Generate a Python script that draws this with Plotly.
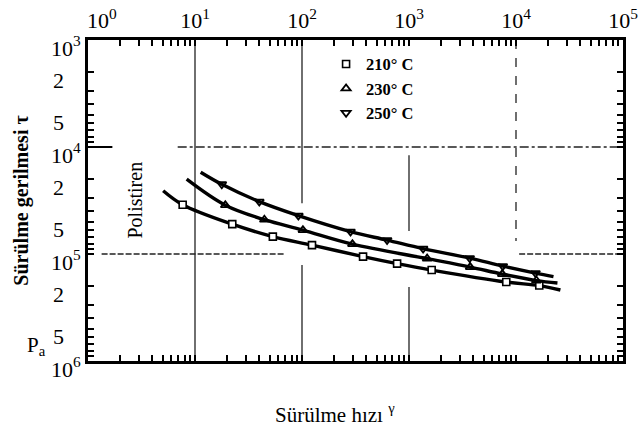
import plotly.graph_objects as go

# ---------------- data ----------------
temps = ["210° C", "230° C", "250° C"]

# marker points (shear rate 1/s, shear stress Pa)
rate_210 = [7.67, 22.3, 53.4, 124, 372, 774, 1629, 8110, 16500]
stress_210 = [34600, 52600, 68800, 82600, 105700, 123000, 141300, 182900, 197200]

rate_230 = [19.2, 44.5, 102, 296, 1477, 3730, 7450, 15500]
stress_230 = [35000, 47800, 59800, 80900, 110400, 132500, 154100, 177100]

rate_250 = [17.8, 39.9, 92.5, 284, 624, 1355, 3690, 7520, 15200]
stress_250 = [22300, 32400, 43800, 61800, 74100, 89100, 109200, 129700, 150700]

# where the drawn curves start and end beyond the markers
curve_start_210 = (5.04, 25600)
curve_end_210 = (26000, 217000)
curve_start_230 = (8.36, 20000)
curve_end_230 = (24400, 186700)
curve_start_250 = (11.3, 17200)
curve_end_250 = (22400, 162500)

# axis ticks
x_decades = [0, 1, 2, 3, 4, 5]
y_decades = [3, 4, 5, 6]
mantissas = [1, 2, 3, 4, 5, 6, 7, 8, 9]
x_decade_labels = ["\u00a0\u00a0\u00a0\u00a0\u00a010<sup>0</sup>", "10<sup>1</sup>", "10<sup>2</sup>",
                   "10<sup>3</sup>", "10<sup>4</sup>", "10<sup>5</sup>"]
y_decade_labels = ["10<sup>3</sup>", "10<sup>4</sup>", "10<sup>5</sup>", "10<sup>6</sup>"]
y_minor_labels = {2: "2\u00a0\u00a0\u00a0", 5: "5\u00a0\u00a0\u00a0"}

# ---------------- build ticks ----------------
x_tickvals, x_ticktext = [], []
for i, d in enumerate(x_decades):
    for m in mantissas:
        if d == x_decades[-1] and m > 1:
            break
        x_tickvals.append(m * 10 ** d)
        x_ticktext.append(x_decade_labels[i] if m == 1 else "")

y_tickvals, y_ticktext = [], []
for i, d in enumerate(y_decades):
    for m in mantissas:
        if d == y_decades[-1] and m > 1:
            break
        y_tickvals.append(m * 10 ** d)
        if m == 1:
            y_ticktext.append(y_decade_labels[i])
        else:
            y_ticktext.append(y_minor_labels.get(m, ""))

FONT = "Liberation Serif"

fig = go.Figure()

# ---------------- partial grid lines of the original drawing ----------------
grid_segments = [
    # (x0, x1, y0, y1, dash)
    (10, 10, 1e3, 1e6, "solid"),
    (100, 100, 1e3, 33500, "solid"),
    (100, 100, 127000, 1e6, "solid"),
    (1000, 1000, 11950, 61100, "solid"),
    (1000, 1000, 203500, 1e6, "solid"),
    (1e4, 1e4, 1e3, 75800, "dash"),
    (6.89, 1e5, 1e4, 1e4, "dashdot"),
    (1.34, 69.2, 1e5, 1e5, "6px,2px"),
    (10700, 1e5, 1e5, 1e5, "6px,2px"),
]
for x0, x1, y0, y1, dash in grid_segments:
    fig.add_trace(go.Scatter(x=[x0, x1], y=[y0, y1], mode="lines",
                             line=dict(color="#222", width=1.3, dash=dash),
                             showlegend=False, hoverinfo="skip"))
# long major tick at 10^4 on the left axis
fig.add_trace(go.Scatter(x=[1, 1.69], y=[1e4, 1e4], mode="lines",
                         line=dict(color="black", width=2),
                         showlegend=False, hoverinfo="skip"))

# ---------------- curves ----------------
series = [
    (temps[0], rate_210, stress_210, curve_start_210, curve_end_210,
     dict(symbol="square", color="white", size=7, line=dict(color="black", width=1.6))),
    (temps[1], rate_230, stress_230, curve_start_230, curve_end_230,
     dict(symbol="triangle-up-open", color="black", size=8, line=dict(color="black", width=1.8))),
    (temps[2], rate_250, stress_250, curve_start_250, curve_end_250,
     dict(symbol="triangle-down-open", color="black", size=8, line=dict(color="black", width=1.8))),
]
for name, xs, ys, start, end, mk in series:
    fig.add_trace(go.Scatter(x=[start[0]] + xs + [end[0]], y=[start[1]] + ys + [end[1]],
                             mode="lines", line=dict(color="black", width=3.4, shape="spline",
                                                     smoothing=1.0),
                             showlegend=False, hoverinfo="skip"))
for name, xs, ys, start, end, mk in series:
    fig.add_trace(go.Scatter(x=xs, y=ys, mode="markers", marker=mk, name=name))

axis_common = dict(
    type="log", showgrid=False, zeroline=False, showline=True, linewidth=3,
    linecolor="black", mirror="allticks", ticks="inside", ticklen=6, tickwidth=2,
    tickcolor="black", automargin=False,
    tickfont=dict(family=FONT, size=22, color="black"),
)

fig.update_layout(
    template="none",
    width=643, height=432,
    margin=dict(l=88, r=20, t=40, b=71),
    paper_bgcolor="white", plot_bgcolor="white",
    font=dict(family=FONT, color="black"),
    xaxis=dict(axis_common, side="top", range=[0, 5],
               tickvals=x_tickvals, ticktext=x_ticktext),
    yaxis=dict(axis_common, range=[6, 3], ticklabelshift=-8,
               tickvals=y_tickvals, ticktext=y_ticktext,
               title=dict(text="<b>Sürülme gerilmesi τ</b>", standoff=17,
                          font=dict(family=FONT, size=20, color="black"))),
    legend=dict(x=0.445, y=0.979, xanchor="left", yanchor="top",
                bgcolor="rgba(0,0,0,0)", borderwidth=0, tracegroupgap=0,
                font=dict(family=FONT, size=16.5, color="black", weight="bold")),
    annotations=[
        dict(text="Polistiren", xref="paper", yref="paper", x=0.086, y=0.5,
             xanchor="center", yanchor="middle",
             textangle=-90, showarrow=False, font=dict(family=FONT, size=20)),
        dict(text="P<sub>a</sub>", xref="paper", yref="paper", x=-0.097, y=0.047,
             xanchor="center", yanchor="middle",
             showarrow=False, font=dict(family=FONT, size=21)),
        dict(text="Sürülme hızı <sup>γ</sup>", xref="paper", yref="paper",
             x=0.462, y=-0.162, xanchor="center", yanchor="middle",
             showarrow=False, font=dict(family=FONT, size=21)),
    ],
)

fig.write_html("out.html")
